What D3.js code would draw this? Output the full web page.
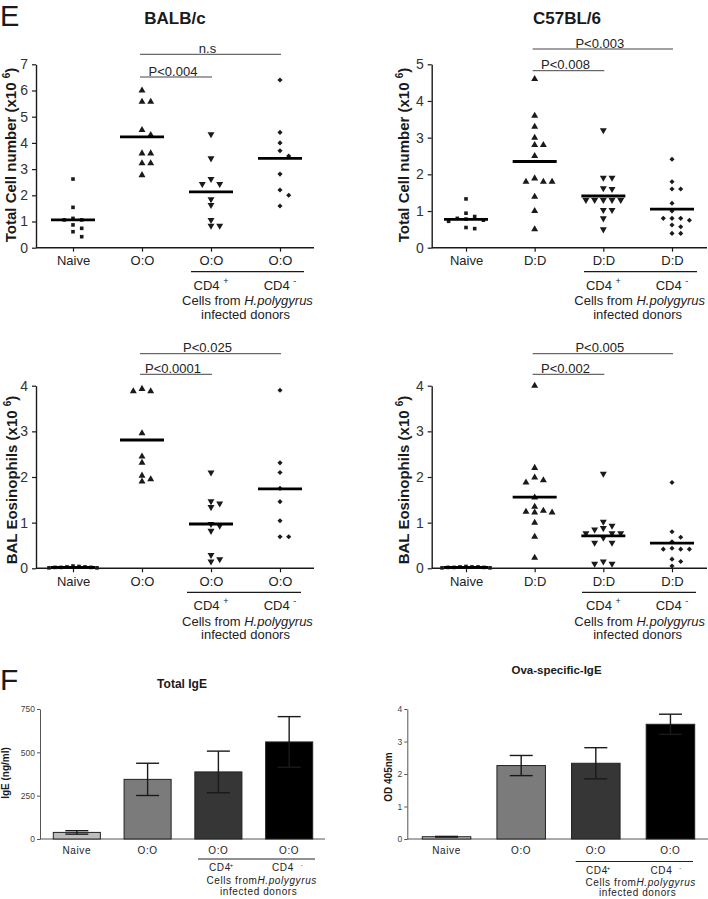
<!DOCTYPE html>
<html><head><meta charset="utf-8">
<script src="https://cdn.jsdelivr.net/npm/d3@7"></script>
<style>body{margin:0;background:#fff}svg{display:block;font-family:"Liberation Sans",Arial,Helvetica,sans-serif}</style>
</head><body><svg id="c" width="708" height="899"></svg>
<script>
// ---------------- DATA ----------------
const balbGroups = ["Naive", "O:O", "O:O", "O:O"];
const c57Groups = ["Naive", "D:D", "D:D", "D:D"];

// Total cell number (x10^6), BALB/c
const balbTotalCells = [
  [2.62, 1.54, 1.12, 1.06, 1.06, 0.87, 0.74, 0.61, 0.42],
  [6.0, 5.57, 5.57, 4.49, 4.30, 3.6, 3.6, 3.22, 3.22, 2.77],
  [4.33, 3.41, 2.62, 2.43, 2.43, 1.85, 1.63, 1.06, 0.84, 0.84],
  [6.4, 4.4, 4.0, 3.7, 3.5, 2.81, 2.2, 2.0, 1.59]
];
const balbTotalMeans = [1.06, 4.23, 2.13, 3.41];
const balbTotalSig = ["n.s", "P<0.004"];

// Total cell number (x10^6), C57BL/6
const c57TotalCells = [
  [1.33, 0.94, 0.85, 0.80, 0.78, 0.75, 0.72, 0.55, 0.52],
  [4.6, 3.6, 3.3, 3.0, 2.8, 2.8, 2.5, 1.89, 1.8, 1.8, 1.8, 1.39, 1.0, 0.5],
  [3.2, 1.91, 1.91, 1.62, 1.6, 1.3, 1.3, 1.3, 1.3, 1.3, 1.03, 1.03, 0.8, 0.5],
  [2.41, 1.8, 1.6, 1.6, 1.21, 1.0, 0.8, 0.8, 0.8, 0.75, 0.62, 0.57, 0.39, 0.39]
];
const c57TotalMeans = [0.77, 2.35, 1.41, 1.05];
const c57TotalSig = ["P<0.003", "P<0.008"];

// BAL eosinophils (x10^6), BALB/c
const balbEos = [
  [0.05, 0.04, 0.03, 0.03, 0.02, 0.02, 0.02, 0.01, 0.01],
  [3.93, 3.88, 3.88, 2.96, 2.45, 2.31, 2.03, 1.95, 1.9],
  [2.1, 1.47, 1.42, 1.34, 0.97, 0.93, 0.82, 0.29, 0.2, 0.15],
  [3.9, 2.31, 2.1, 1.75, 1.46, 1.04, 0.69, 0.69]
];
const balbEosMeans = [0.02, 2.81, 0.97, 1.74];
const balbEosSig = ["P<0.025", "P<0.0001"];

// BAL eosinophils (x10^6), C57BL/6
const c57Eos = [
  [0.04, 0.03, 0.03, 0.03, 0.02, 0.02, 0.02, 0.01, 0.01],
  [4.0, 2.2, 1.99, 1.93, 1.88, 1.55, 1.35, 1.26, 1.24, 1.22, 1.22, 1.0, 0.69, 0.23],
  [2.07, 1.02, 0.93, 0.88, 0.85, 0.77, 0.77, 0.77, 0.67, 0.56, 0.56, 0.15, 0.1, 0.1],
  [1.88, 0.8, 0.68, 0.58, 0.44, 0.42, 0.42, 0.42, 0.2, 0.15, 0.05]
];
const c57EosMeans = [0.02, 1.56, 0.71, 0.55];
const c57EosSig = ["P<0.005", "P<0.002"];

// Serum IgE (bars)
const barGroups = ["Naive", "O:O", "O:O", "O:O"];
const totalIgeMean = [38, 344, 387, 560];
const totalIgeSem = [10, 93, 120, 146];
const totalIgeTicks = [0, 250, 500, 750];
const ovaIgeMean = [0.07, 2.26, 2.33, 3.53];
const ovaIgeSem = [0.01, 0.31, 0.48, 0.31];
const ovaIgeTicks = [0, 1, 2, 3, 4];

// ---------------- DRAWING ----------------
const svg = d3.select("#c");
const ink = "#1a1a1a";

svg.append("text").attr("x", 0).attr("y", 26).attr("font-size", 29).attr("fill", ink).text("E");
svg.append("text").attr("x", 0).attr("y", 690).attr("font-size", 30).attr("fill", ink).text("F");
svg.append("text").attr("x", 175).attr("y", 24).attr("text-anchor", "middle").attr("font-size", 17).attr("font-weight", "bold").attr("fill", ink).text("BALB/c");
svg.append("text").attr("x", 567).attr("y", 24).attr("text-anchor", "middle").attr("font-size", 17).attr("font-weight", "bold").attr("fill", ink).text("C57BL/6");

const symSquare = d3.symbol(d3.symbolSquare, 13)();
const symTri = d3.symbol(d3.symbolTriangle, 21)();
const symDiamond = d3.symbol(d3.symbolSquare, 13)();
const markers = [
  {path: symSquare, rot: 0},
  {path: symTri, rot: 0},
  {path: symTri, rot: 180},
  {path: symDiamond, rot: 45}
];

function swarm(vals, y, cx, spacing, d) {
  const order = vals.map((v, i) => i).sort((a, b) => vals[b] - vals[a]);
  const placed = [];
  const slots = [0, 1, -1, 2, -2, 3, -3, 4, -4, 5, -5, 6, -6];
  order.forEach(i => {
    const py = y(vals[i]);
    for (const k of slots) {
      const ok = !placed.some(p => p.k === k && Math.abs(p.y - py) < d);
      if (ok) { placed.push({k, y: py, v: vals[i]}); break; }
    }
  });
  const maxK = d3.max(placed, p => Math.abs(p.k)) || 1;
  const sp = Math.min(spacing, 24 / maxK);
  return placed.map(p => ({x: cx + p.k * sp, y: p.y}));
}

function scatterPanel(o) {
  const g = svg.append("g");
  const y = d3.scaleLinear().domain([0, o.ymax]).range([o.y0, o.yTop]);
  const x = d3.scalePoint().domain(d3.range(o.groups.length)).range(o.cat);

  // y axis
  const ya = g.append("g").attr("transform", `translate(${o.left},0)`)
    .call(d3.axisLeft(y).ticks(o.ymax).tickSize(4).tickSizeOuter(0).tickPadding(4).tickFormat(d3.format("d")))
    .attr("font-family", null).attr("font-size", null);
  ya.select(".domain").attr("stroke", ink).attr("stroke-width", 1.4);
  ya.selectAll(".tick line").attr("stroke", ink).attr("stroke-width", 1.2);
  ya.selectAll(".tick text").attr("font-size", 14).attr("fill", "#333");

  // x axis
  const xa = g.append("g").attr("transform", `translate(0,${o.y0})`)
    .call(d3.axisBottom(x).tickSize(4).tickPadding(4).tickFormat(i => o.groups[i]))
    .attr("font-family", null).attr("font-size", null);
  xa.select(".domain").remove();
  xa.selectAll(".tick line").attr("stroke", ink).attr("stroke-width", 1.2);
  xa.selectAll(".tick text").attr("font-size", 13).attr("fill", "#222");
  g.append("line").attr("x1", o.left).attr("x2", o.right).attr("y1", o.y0).attr("y2", o.y0)
    .attr("stroke", ink).attr("stroke-width", 1.4);

  // sub labels
  g.append("line").attr("x1", o.sub[0]).attr("x2", o.sub[1]).attr("y1", o.y0 + 24).attr("y2", o.y0 + 24)
    .attr("stroke", ink).attr("stroke-width", 1.3);
  const t1 = g.append("text").attr("x", x(2)).attr("y", o.y0 + 42).attr("text-anchor", "middle")
    .attr("font-size", 13).attr("fill", "#222");
  t1.append("tspan").text("CD4 ");
  t1.append("tspan").attr("font-size", 9).attr("dy", -6).text("+");
  const t2 = g.append("text").attr("x", x(3)).attr("y", o.y0 + 42).attr("text-anchor", "middle")
    .attr("font-size", 13).attr("fill", "#222");
  t2.append("tspan").text("CD4 ");
  t2.append("tspan").attr("font-size", 9).attr("dy", -6).text("-");
  const cx = (x(2) + x(3)) / 2 + 2;
  const t3 = g.append("text").attr("x", cx).attr("y", o.y0 + 57.5).attr("text-anchor", "middle")
    .attr("font-size", 13).attr("fill", "#222");
  t3.append("tspan").text("Cells from ");
  t3.append("tspan").attr("font-style", "italic").text("H.polygyrus");
  g.append("text").attr("x", cx - 2).attr("y", o.y0 + 71).attr("text-anchor", "middle")
    .attr("font-size", 13).attr("fill", "#222").text("infected donors");

  // y label
  const yl = g.append("text").attr("transform", `translate(${o.lx},${o.ly}) rotate(-90)`)
    .attr("text-anchor", "middle").attr("font-size", 15).attr("font-weight", "bold").attr("fill", ink);
  yl.append("tspan").text(o.ylabel + " ");
  yl.append("tspan").attr("font-size", 10).attr("dy", -6).text("6");
  yl.append("tspan").attr("dy", 6).text(")");

  // points
  o.values.forEach((vals, ci) => {
    const pts = swarm(vals, y, x(ci), 8.7, 5.5);
    const m = markers[ci];
    g.append("g").selectAll("path").data(pts).join("path")
      .attr("d", m.path)
      .attr("transform", p => `translate(${p.x},${p.y}) rotate(${m.rot})`)
      .attr("fill", ink);
  });
  // mean lines
  g.append("g").selectAll("line").data(o.means).join("line")
    .attr("x1", (d, i) => x(i) - 22).attr("x2", (d, i) => x(i) + 22)
    .attr("y1", d => y(d)).attr("y2", d => y(d))
    .attr("stroke", "#000").attr("stroke-width", 2.8);

  // significance bars
  o.sig.forEach(s => {
    const x1 = x(s.a) - 2, x2 = x(s.b) + 1;
    g.append("line").attr("x1", x1).attr("x2", x2).attr("y1", s.y).attr("y2", s.y)
      .attr("stroke", "#444").attr("stroke-width", 1);
    g.append("text").attr("x", (x1 + x2) / 2 - 3).attr("y", s.y - 1.5).attr("text-anchor", "middle")
      .attr("font-size", 13).attr("fill", "#222").text(s.label);
  });
}

scatterPanel({left: 36, right: 314, y0: 247.7, yTop: 64.3, ymax: 7, cat: [73, 280],
  groups: balbGroups, values: balbTotalCells, means: balbTotalMeans,
  sig: [{a: 1, b: 3, label: balbTotalSig[0], y: 54.3}, {a: 1, b: 2, label: balbTotalSig[1], y: 77}],
  ylabel: "Total Cell number (x10", lx: 16, ly: 155, sub: [191, 304]});
scatterPanel({left: 431.7, right: 707, y0: 247.7, yTop: 64.3, ymax: 5, cat: [466, 672],
  groups: c57Groups, values: c57TotalCells, means: c57TotalMeans,
  sig: [{a: 1, b: 3, label: c57TotalSig[0], y: 49}, {a: 1, b: 2, label: c57TotalSig[1], y: 70.7}],
  ylabel: "Total Cell number (x10", lx: 409, ly: 155, sub: [584, 697]});
scatterPanel({left: 36, right: 314, y0: 568.3, yTop: 385.7, ymax: 4, cat: [73, 280],
  groups: balbGroups, values: balbEos, means: balbEosMeans,
  sig: [{a: 1, b: 3, label: balbEosSig[0], y: 353.7}, {a: 1, b: 2, label: balbEosSig[1], y: 374.3}],
  ylabel: "BAL Eosinophils (x10", lx: 16.5, ly: 480, sub: [187, 301]});
scatterPanel({left: 431.7, right: 707, y0: 568.3, yTop: 385.7, ymax: 4, cat: [466, 672],
  groups: c57Groups, values: c57Eos, means: c57EosMeans,
  sig: [{a: 1, b: 3, label: c57EosSig[0], y: 353.7}, {a: 1, b: 2, label: c57EosSig[1], y: 374.3}],
  ylabel: "BAL Eosinophils (x10", lx: 409, ly: 480, sub: [582, 696]});

// ---------------- BAR PANELS ----------------
const barFills = ["#bdbdbd", "#7b7b7b", "#363636", "#000000"];

function barPanel(o) {
  const g = svg.append("g");
  const y = d3.scaleLinear().domain([0, o.ymax]).range([o.y0, o.yTop]);
  const x = d3.scaleBand().domain(d3.range(o.groups.length)).range(o.band).paddingInner(o.pad).paddingOuter(0);

  const ya = g.append("g").attr("transform", `translate(${o.left},0)`)
    .call(d3.axisLeft(y).tickValues(o.ticks).tickSize(3).tickSizeOuter(0).tickPadding(2).tickFormat(d3.format("d")))
    .attr("font-family", null).attr("font-size", null);
  ya.select(".domain").attr("stroke", "#555").attr("stroke-width", 1);
  ya.selectAll(".tick line").attr("stroke", "#555");
  ya.selectAll(".tick text").attr("font-size", 8.5).attr("fill", "#444");
  g.append("line").attr("x1", o.left).attr("x2", o.right).attr("y1", o.y0).attr("y2", o.y0)
    .attr("stroke", "#555").attr("stroke-width", 1);

  g.append("g").selectAll("rect").data(o.means).join("rect")
    .attr("x", (d, i) => x(i)).attr("width", x.bandwidth())
    .attr("y", d => y(d)).attr("height", d => o.y0 - y(d))
    .attr("fill", (d, i) => barFills[i]).attr("stroke", "#222").attr("stroke-width", 1);

  const eb = g.append("g").attr("stroke", "#1a1a1a").attr("stroke-width", 1.4);
  o.means.forEach((m, i) => {
    const cx = x(i) + x.bandwidth() / 2;
    const hi = y(m + o.sems[i]), lo = y(m - o.sems[i]);
    eb.append("line").attr("x1", cx).attr("x2", cx).attr("y1", hi).attr("y2", lo);
    eb.append("line").attr("x1", cx - 11.5).attr("x2", cx + 11.5).attr("y1", hi).attr("y2", hi);
    eb.append("line").attr("x1", cx - 11.5).attr("x2", cx + 11.5).attr("y1", lo).attr("y2", lo);
  });

  g.append("g").selectAll("text").data(o.groups).join("text")
    .attr("x", (d, i) => x(i) + x.bandwidth() / 2).attr("y", o.y0 + 15)
    .attr("text-anchor", "middle").attr("font-size", 10).attr("letter-spacing", 0.6)
    .attr("fill", "#222").text(d => d);

  g.append("line").attr("x1", o.sub[0]).attr("x2", o.sub[1]).attr("y1", o.subY).attr("y2", o.subY)
    .attr("stroke", "#222").attr("stroke-width", 1);
  const c1 = g.append("text").attr("x", o.cd4[0]).attr("y", o.subY + 12).attr("font-size", 10)
    .attr("letter-spacing", 0.6).attr("fill", "#222");
  c1.append("tspan").text("CD4");
  c1.append("tspan").attr("font-size", 6).attr("dy", -4).attr("dx", -1).text("+");
  const c2 = g.append("text").attr("x", o.cd4[1]).attr("y", o.subY + 12).attr("font-size", 10)
    .attr("letter-spacing", 0.6).attr("fill", "#222");
  c2.append("tspan").text("CD4");
  c2.append("tspan").attr("font-size", 6).attr("dy", -4).attr("dx", 7).text("-");
  const c3 = g.append("text").attr("x", o.cells).attr("y", o.subY + 24.5).attr("text-anchor", "middle")
    .attr("font-size", 10).attr("letter-spacing", 0.6).attr("fill", "#222");
  c3.append("tspan").text("Cells from");
  c3.append("tspan").attr("font-style", "italic").text("H.polygyrus");
  g.append("text").attr("x", o.cells - 3).attr("y", Math.min(o.subY + 36, 895.5)).attr("text-anchor", "middle")
    .attr("font-size", 10).attr("letter-spacing", 0.6).attr("fill", "#222").text("infected donors");

  g.append("text").attr("x", o.tx).attr("y", o.ty).attr("text-anchor", "middle")
    .attr("font-size", o.tsize).attr("font-weight", "bold").attr("fill", ink).text(o.title);
  g.append("text").attr("transform", `translate(${o.lx},${o.ly}) rotate(-90)`)
    .attr("text-anchor", "middle").attr("font-size", 10).attr("font-weight", "bold").attr("fill", ink).text(o.ylabel);
}

barPanel({left: 40, right: 325, y0: 839, yTop: 709, ymax: 750, ticks: totalIgeTicks,
  band: [53.3, 312.7], pad: 0.335, groups: barGroups, means: totalIgeMean, sems: totalIgeSem,
  sub: [198, 315], subY: 859, cd4: [209, 272], cells: 261.7,
  title: "Total IgE", tx: 182, ty: 688, tsize: 12, ylabel: "IgE (ng/ml)", lx: 8.5, ly: 773});
barPanel({left: 407.3, right: 708, y0: 839, yTop: 709, ymax: 4, ticks: ovaIgeTicks,
  band: [422.3, 694.7], pad: 0.35, groups: barGroups, means: ovaIgeMean, sems: ovaIgeSem,
  sub: [575.7, 693], subY: 861.5, cd4: [586, 650.5], cells: 640.7,
  title: "Ova-specific-IgE", tx: 556.5, ty: 674, tsize: 11.5, ylabel: "OD 405nm", lx: 392, ly: 777});
</script></body></html>
